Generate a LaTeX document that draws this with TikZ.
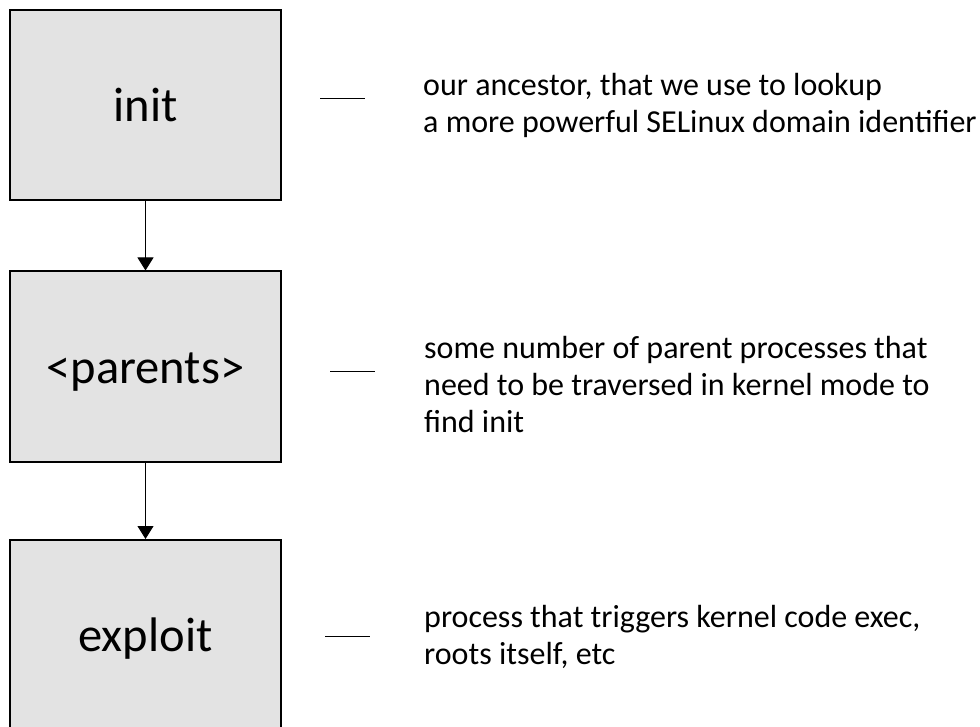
\documentclass[tikz,border=0pt]{standalone}
\usepackage{fontspec}
\setmainfont{Carlito}
\usetikzlibrary{arrows.meta}
\definecolor{boxfill}{RGB}{227,227,227}
\tikzset{
  procbox/.style={draw=black, line width=2pt, fill=boxfill,
    minimum width=271pt, minimum height=190pt, inner sep=0pt,
    font=\fontsize{48.5}{58}\selectfont, text height=33pt, text depth=0pt},
  flow/.style={line width=1pt, -{Triangle[length=13pt,width=16pt]}},
  % a multi-line note sits on the baseline of its last line
  note/.style={anchor=base west, align=left, inner sep=0pt,
    font=\fontsize{32}{37}\selectfont},
  tick/.style={line width=1pt}
}
\begin{document}
\begin{tikzpicture}[x=1pt,y=-1pt]
\useasboundingbox (0,0) rectangle (980,727);

% process chain
\node[procbox] (init)    at (145.5,105)   {init};
\node[procbox] (parents) at (145.5,366.5) {<parents>};
\node[procbox] (exploit) at (145.5,635)   {exploit};

\draw[flow] (init.south) -- (parents.north);
\draw[flow] (parents.south) -- (exploit.north);

% short rules before each note
\coordinate (t1a) at (320,99);  \coordinate (t1b) at (365,99);
\coordinate (t2a) at (330,371); \coordinate (t2b) at (375,371);
\coordinate (t3a) at (325,636); \coordinate (t3b) at (370,636);
\draw[tick] (t1a) -- (t1b);
\draw[tick] (t2a) -- (t2b);
\draw[tick] (t3a) -- (t3b);

% notes
\node[note] (n1) at (423,133) {our ancestor, that we use to lookup\\a more powerful SELinux domain identifier};
\node[note] (n2) at (424,432) {some number of parent processes that\\need to be traversed in kernel mode to\\find init};
\node[note] (n3) at (424,664) {process that triggers kernel code exec,\\roots itself, etc};
\end{tikzpicture}
\end{document}
